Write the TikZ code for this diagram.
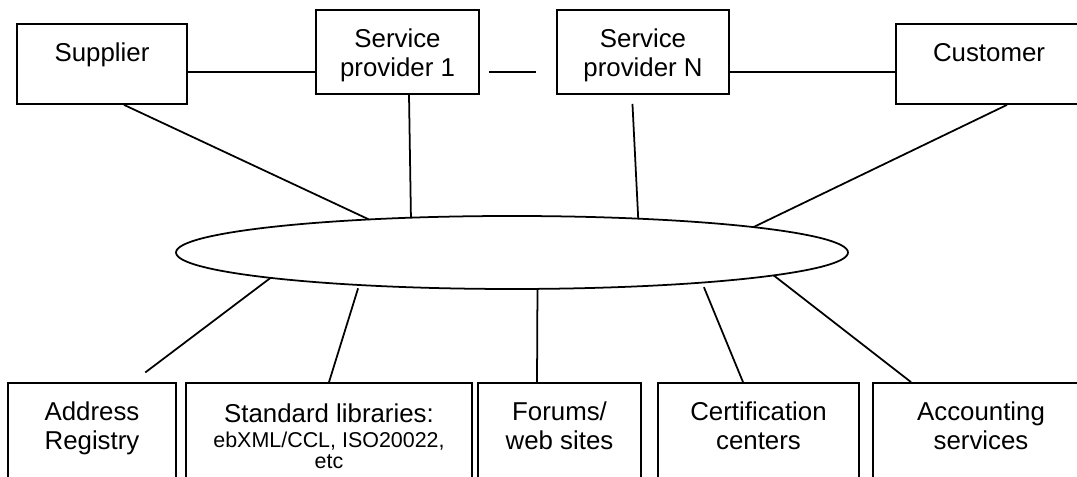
\documentclass[tikz,border=0pt]{standalone}
\usepackage{fontspec}
\setmainfont{Liberation Sans}
\usepackage{tikz}
\usetikzlibrary{shapes,positioning}

\newcommand{\smalltext}{\fontsize{12.2}{12.5}\selectfont}

\begin{document}
\begin{tikzpicture}[
    party/.style={rectangle, draw, line width=1pt, align=center, inner sep=0pt, font=\fontsize{14.7}{16.8}\selectfont, text height=0.75cm, text depth=0.85cm},
    service/.style={party, text height=1.34cm, text depth=0.34cm},
    helper/.style={party, text height=1.34cm, text depth=1cm},
    hub/.style={ellipse, draw, line width=1pt, minimum width=13.44cm, minimum height=1.46cm, inner sep=0pt, outer sep=0pt},
    link/.style={line width=1pt}
]

% Frame
\useasboundingbox (0,0) rectangle (21.54,9.54);
\clip (0,0) rectangle (21.54,9.54);

% Trading parties
\node[party, minimum width=3.4cm] (supplier) at (2.04,8.26) {Supplier};
\node[service, minimum width=3.26cm] (prov1) at (7.95,8.50) {Service\\provider 1};
\node[service, minimum width=3.44cm] (provN) at (12.86,8.50) {Service\\provider N};
\node[party, minimum width=3.72cm] (customer) at (19.78,8.26) {Customer};

% Network
\node[hub] (hub) at (10.24,4.49) {};

% Supporting services
\node[helper, minimum width=3.36cm] (address) at (1.84,0.71) {Address\\Registry};
\node[helper, minimum width=5.72cm, text height=1.72cm, text depth=0.62cm] (stdlib) at (6.58,0.71) {Standard libraries:\\[-2.6pt]{\smalltext ebXML/CCL, ISO20022,}\\[-4.3pt]{\smalltext etc}};
\node[helper, minimum width=3.26cm] (forums) at (11.19,0.71) {Forums/\\web sites};
\node[helper, minimum width=4.02cm] (certif) at (15.17,0.71) {Certification\\centers};
\node[helper, minimum width=4.32cm] (account) at (19.62,0.71) {Accounting\\services};

% Chain links
\draw[link] ([yshift=-0.16cm]supplier.east) -- ([yshift=-0.4cm]prov1.west);
\draw[link, shorten <=0.18cm, shorten >=0.4cm] ([yshift=-0.4cm]prov1.east) -- ([yshift=-0.4cm]provN.west);
\draw[link] ([yshift=-0.4cm]provN.east) -- ([yshift=-0.16cm]customer.west);

% Parties to network
\draw[link] ([xshift=0.44cm]supplier.south) -- (hub.167);
\draw[link] ([xshift=0.23cm]prov1.south) -- (hub.161.4);
\draw[link, shorten <=0.18cm] ([xshift=-0.22cm]provN.south) -- (hub.15.9);
\draw[link] ([xshift=0.36cm]customer.south) -- (hub.6.3);

% Services to network
\draw[link, shorten <=0.32cm] ([xshift=0.81cm]address.north) -- (hub.-174.3);
\draw[link, shorten >=0.07cm] (stdlib.north) -- (hub.-168.6);
\draw[link] ([xshift=-0.45cm]forums.north) -- (hub.-55.5);
\draw[link, shorten >=0.1cm] ([xshift=-0.31cm]certif.north) -- (hub.-9.7);
\draw[link] ([xshift=-1.4cm]account.north) -- (hub.-5.3);

\end{tikzpicture}
\end{document}
